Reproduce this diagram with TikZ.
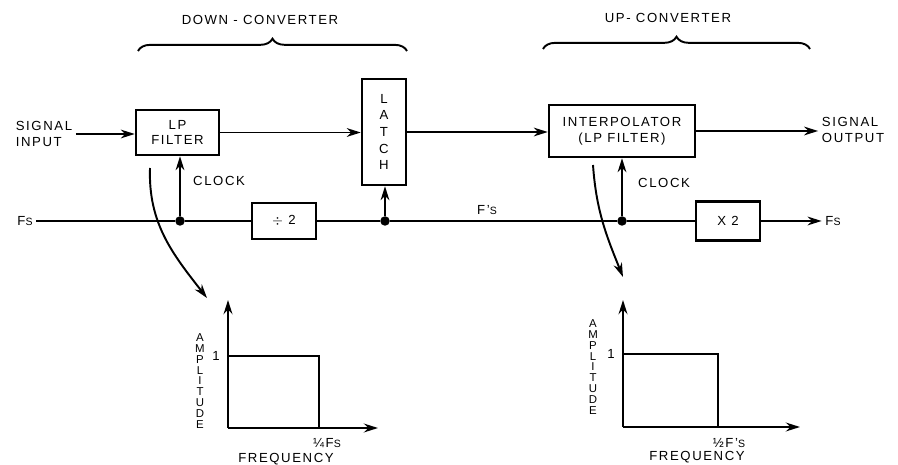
\documentclass[tikz,border=0pt]{standalone}
\usepackage{fontspec}
\setmainfont{Liberation Sans}[LetterSpace=12]
\usepackage{tikz}
\usetikzlibrary{arrows.meta,decorations.pathreplacing}

\newcommand{\sub}[1]{{\fontsize{6}{6}\selectfont #1}}

\begin{document}
\begin{tikzpicture}[x=0.02cm,y=-0.02cm,>={Stealth[length=8pt,width=5pt]},
  font=\fontsize{7.5}{9}\selectfont,
  box/.style={draw,line width=1.4pt,inner sep=0pt,align=center},
  junc/.style={circle,fill,inner sep=0pt,minimum size=0.19cm},
  lbl/.style={align=left,inner sep=2pt},
  wire/.style={line width=1.1pt},
  axis/.style={line width=1.5pt},
  stack/.style={align=center,inner sep=0pt,font=\fontsize{6.5}{6.2}\selectfont}]
  \useasboundingbox (0,0) rectangle (898,465);

  % blocks
  \node[box,minimum width=1.66cm,minimum height=0.9cm] (lpf) at (177.5,132.5) {LP\\FILTER};
  \node[box,minimum width=0.88cm,minimum height=2.12cm,font=\fontsize{7.5}{9.5}\selectfont] (latch) at (384,132) {L\\A\\T\\C\\H};
  \node[box,minimum width=2.92cm,minimum height=1.04cm] (interp) at (622,131) {INTERPOLATOR\\(LP FILTER)};
  \node[box,minimum width=1.28cm,minimum height=0.72cm] (div) at (284,221) {$\div$ 2};
  \node[box,minimum width=1.28cm,minimum height=0.78cm] (mul) at (728,221) {X 2};

  % labels
  \node at (260,20) {DOWN - CONVERTER};
  \node at (668,18) {UP- CONVERTER};
  \node[lbl] (sigin) at (44,134) {SIGNAL\\INPUT};
  \node[lbl] (sigout) at (853,130) {SIGNAL\\OUTPUT};
  \node[lbl] (fsin) at (25,221) {F\sub{S}};
  \node[lbl] (fsout) at (833,221) {F\sub{S}};
  \node at (487,210) {F'\sub{S}};
  \node[anchor=west] at (187,181) {CLOCK};
  \node[anchor=west] at (632,183) {CLOCK};

  % junctions
  \node[junc] (j1) at (180,221) {};
  \node[junc] (j2) at (385,221) {};
  \node[junc] (j3) at (622,221) {};

  % braces
  \draw[wire,decorate,decoration={brace,amplitude=7pt}] (138,51) -- (407,51);
  \draw[wire,decorate,decoration={brace,amplitude=7pt}] (543,49) -- (810,49);

  % signal path
  \draw[wire,->] (sigin.east) -- (sigin.east -| lpf.west);
  \draw[wire,->] (lpf.east) -- (lpf.east -| latch.west);
  \draw[wire,->] (latch.east) -- (latch.east -| interp.west);
  \draw[wire,->] (interp.east) -- (interp.east -| sigout.west);

  % clock path
  \draw[wire] (fsin) -- (j1) -- (div);
  \draw[wire] (div) -- (j2) -- (j3) -- (mul);
  \draw[wire,->] (mul) -- (fsout);
  \draw[wire,->] (j1) -- (j1 |- lpf.south);
  \draw[wire,->] (j2) -- (j2 |- latch.south);
  \draw[wire,->] (j3) -- (j3 |- interp.south);

  % response pointers
  \coordinate (p1) at (150,168);
  \coordinate (q1) at (207,298);
  \coordinate (p2) at (593,165);
  \coordinate (q2) at (623,277);
  \draw[wire,->] (p1) to[out=-92,in=128] (q1);
  \draw[wire,->] (p2) to[out=-86,in=112] (q2);

  % left response
  \coordinate (o1) at (228,428);
  \draw[axis,->] (o1) -- (228,300);
  \draw[axis,->] (o1) -- (378,428);
  \draw[axis] (228,356) -- (319,356) -- (319,428);
  \node[anchor=east] at (226,356) {1};
  \node[anchor=north] at (327,432) {¼F\sub{S}};
  \node at (286,459) {FREQUENCY};
  \node[stack] at (200,381) {A\\M\\P\\L\\I\\T\\U\\D\\E};

  % right response
  \coordinate (o2) at (623,427);
  \draw[axis,->] (o2) -- (623,300);
  \draw[axis,->] (o2) -- (800,427);
  \draw[axis] (623,354) -- (718,354) -- (718,427);
  \node[anchor=east] at (621,354) {1};
  \node[anchor=north] at (729,432) {½F'\sub{S}};
  \node at (697,457) {FREQUENCY};
  \node[stack] at (593,367) {A\\M\\P\\L\\I\\T\\U\\D\\E};
\end{tikzpicture}
\end{document}
